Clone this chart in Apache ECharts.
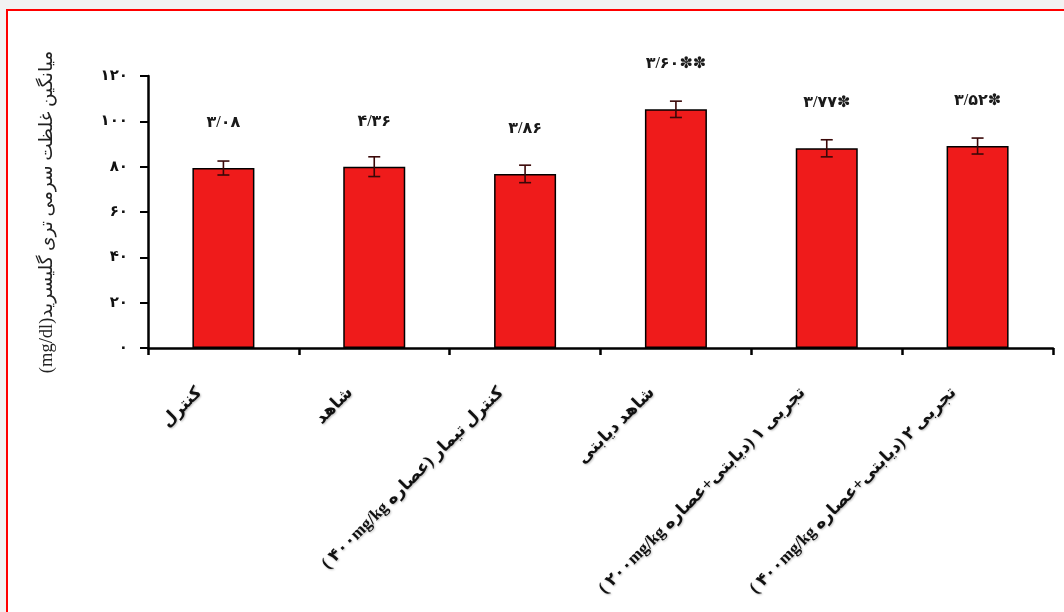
<!DOCTYPE html>
<html>
<head>
<meta charset="utf-8">
<script src="https://cdn.jsdelivr.net/npm/echarts@6/dist/echarts.min.js"></script>
<style>
    html, body { margin: 0; padding: 0; background: #f2f2f2; overflow: hidden; }
    .frame {
        position: absolute; left: 6px; top: 9px;
        width: 1100px; height: 700px;
        border: 2px solid #ff0000; background: #ffffff;
    }
    #chart { position: absolute; left: 0; top: 0; width: 1064px; height: 612px; }
</style>
</head>
<body>
<div class="frame"></div>
<div id="chart"></div>
<script>
    // گروه‌ها (متن محور افقی، به ترتیب نمایش)
    const categories = [
        'کنترل',
        'شاهد',
        '( ۴۰۰mg/kg کنترل تیمار (عصاره',
        'شاهد دیابتی',
        '( ۲۰۰mg/kg تجربی ۱ (دیابتی+عصاره',
        '( ۴۰۰mg/kg تجربی ۲ (دیابتی+عصاره'
    ];
    // میانگین تری گلیسرید (mg/dl)
    const means = [79.4, 80.0, 76.8, 105.3, 88.1, 89.1];
    // انحراف معیار
    const sd = [3.08, 4.36, 3.86, 3.60, 3.77, 3.52];
    // ستاره معنی‌داری
    const stars = ['', '', '', '✽✽', '✽', '✽'];
    const yTicks = [0, 20, 40, 60, 80, 100, 120];

    const font = '"Liberation Serif", "DejaVu Sans", serif';

    function fa(s) {
        return String(s).replace(/[0-9]/g, function (d) { return '۰۱۲۳۴۵۶۷۸۹'[d]; }).replace('.', '/');
    }

    const chart = echarts.init(document.getElementById('chart'), null, { renderer: 'canvas' });

    chart.setOption({
        backgroundColor: 'transparent',
        animation: false,
        grid: { left: 148, right: 11, top: 76, bottom: 264, containLabel: false },
        xAxis: {
            type: 'category',
            data: categories,
            axisLine: { lineStyle: { color: '#000', width: 2.5 } },
            axisTick: { show: true, length: 7, lineStyle: { color: '#000', width: 2.5 } },
            axisLabel: {
                interval: 0,
                rotate: 45,
                margin: 18,
                padding: [0, 34, 0, 0],
                color: '#111',
                fontSize: 17,
                fontWeight: 'bold',
                fontFamily: font,
                textShadowColor: 'rgba(0,0,0,0.25)',
                textShadowBlur: 2,
                textShadowOffsetX: 1,
                textShadowOffsetY: 1
            }
        },
        yAxis: {
            type: 'value',
            min: yTicks[0],
            max: yTicks[yTicks.length - 1],
            interval: 20,
            name: '(mg/dl)میانگین غلظت سرمی تری گلیسرید',
            nameLocation: 'middle',
            nameRotate: 90,
            nameGap: 91,
            nameTextStyle: { fontSize: 18.5, color: '#222', fontFamily: font },
            splitLine: { show: false },
            axisLine: { show: true, lineStyle: { color: '#000', width: 2.5 } },
            axisTick: { show: true, length: 8, lineStyle: { color: '#000', width: 2 } },
            axisLabel: {
                margin: 20,
                color: '#111',
                fontSize: 15,
                fontWeight: 'bold',
                fontFamily: font,
                formatter: function (v) { return fa(v); }
            }
        },
        series: [{
            type: 'bar',
            data: means,
            barWidth: 62,
            itemStyle: { color: '#ef1b1b', borderColor: '#000', borderWidth: 1.5 },
            label: {
                show: true,
                position: 'top',
                distance: 37,
                color: '#1a1a1a',
                fontSize: 16,
                fontWeight: 'bold',
                fontFamily: font,
                formatter: function (p) {
                    return fa(sd[p.dataIndex].toFixed(2)) + stars[p.dataIndex];
                }
            },
            silent: true
        }, {
            type: 'custom',
            data: means.map(function (m, i) { return [i, m - sd[i], m + sd[i]]; }),
            renderItem: function (params, api) {
                const lo = api.coord([api.value(0), api.value(1)]);
                const hi = api.coord([api.value(0), api.value(2)]);
                const half = 6;
                const style = { stroke: '#3a0808', lineWidth: 1.6 };
                return {
                    type: 'group',
                    children: [
                        { type: 'line', shape: { x1: hi[0], y1: hi[1], x2: lo[0], y2: lo[1] }, style: style },
                        { type: 'line', shape: { x1: hi[0] - half, y1: hi[1], x2: hi[0] + half, y2: hi[1] }, style: style },
                        { type: 'line', shape: { x1: lo[0] - half, y1: lo[1], x2: lo[0] + half, y2: lo[1] }, style: style }
                    ]
                };
            },
            z: 10,
            silent: true
        }]
    });
</script>
</body>
</html>
